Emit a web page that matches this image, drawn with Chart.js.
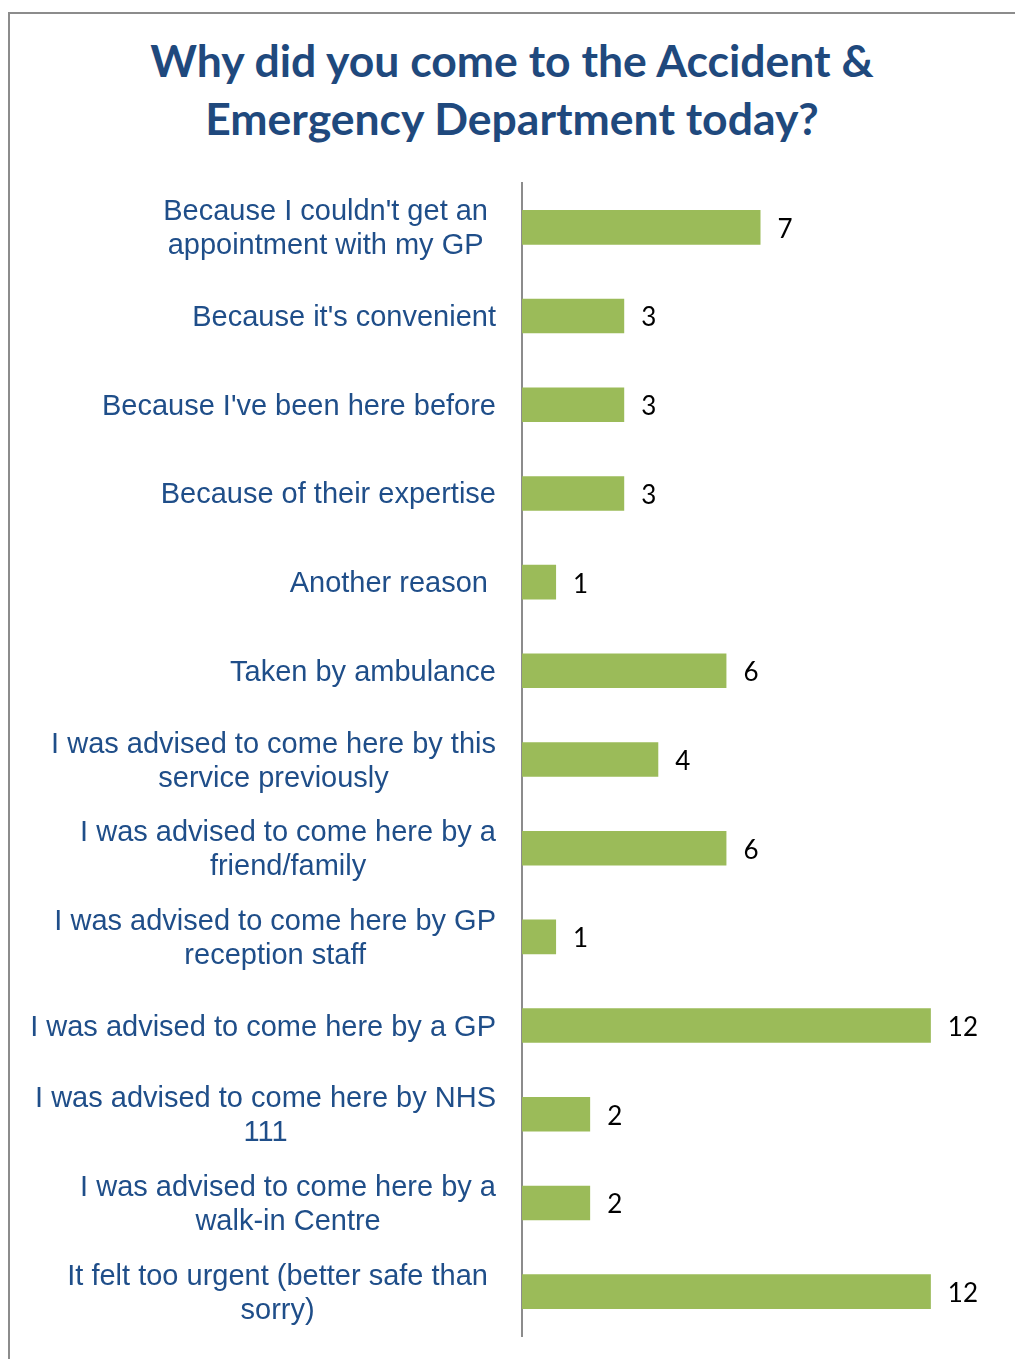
<!DOCTYPE html>
<html>
<head>
<meta charset="utf-8">
<script src="https://cdn.jsdelivr.net/npm/chart.js@4/dist/chart.umd.min.js"></script>
<style>
  html,body{margin:0;padding:0;background:#fff;}
  #frame{position:absolute;left:8px;top:12px;width:1015px;height:1360px;border-left:2px solid #8c8c8c;border-top:2px solid #8c8c8c;}
  #title{position:absolute;left:0;top:31px;width:1024px;text-align:center;font-family:Lato,"Open Sans",sans-serif;font-weight:bold;font-size:44.5px;line-height:58px;color:#1F497D;}
  #wrap{position:absolute;left:0;top:0;width:1015px;height:1359px;}
</style>
</head>
<body>
<div id="frame"></div>
<div id="title">Why did you come to the Accident &amp;<br>Emergency Department today?</div>
<div id="wrap"><canvas id="chart"></canvas></div>
<script>
// kategoriler (çok satırlı etiketler dizi olarak)
const categories = [
  ["Because I couldn't get an", "appointment with my GP"],
  ["Because it's convenient"],
  ["Because I've been here before"],
  ["Because of their expertise"],
  ["Another reason"],
  ["Taken by ambulance"],
  ["I was advised to come here by this", "service previously"],
  ["I was advised to come here by a", "friend/family"],
  ["I was advised to come here by GP", "reception staff"],
  ["I was advised to come here by a GP"],
  ["I was advised to come here by NHS", "111"],
  ["I was advised to come here by a", "walk-in Centre"],
  ["It felt too urgent (better safe than", "sorry)"]
];
const counts = [7, 3, 3, 3, 1, 6, 4, 6, 1, 12, 2, 2, 12];
const xMax = 14;

const LABEL_FONT = '29px "Liberation Sans", Arial, sans-serif';
const VALUE_FONT = '26px Lato, "Open Sans", sans-serif';

// y ekseni etiketleri: satırlar kendi içinde ortalı, blok sağa yaslı
const catLabels = {
  id: 'catLabels',
  afterDraw(chart) {
    const ctx = chart.ctx, y = chart.scales.y;
    const lh = 34;
    ctx.save();
    ctx.font = LABEL_FONT;
    ctx.fillStyle = '#1F4E89';
    ctx.textAlign = 'center';
    ctx.textBaseline = 'middle';
    categories.forEach((lines, i) => {
      const right = (i === 0 || i === 4 || i === 12) ? 488 : 496;
      const cy = y.getPixelForValue(i) + 2;
      const w = Math.max(...lines.map(t => ctx.measureText(t).width));
      const cx = right - w / 2;
      const y0 = cy - (lines.length - 1) * lh / 2;
      lines.forEach((t, k) => ctx.fillText(t, cx, y0 + k * lh));
    });
    ctx.restore();
  }
};

// bar sonu değer etiketleri
const valueLabels = {
  id: 'valueLabels',
  afterDatasetsDraw(chart) {
    const ctx = chart.ctx;
    const meta = chart.getDatasetMeta(0);
    ctx.save();
    ctx.font = VALUE_FONT;
    ctx.fillStyle = '#000';
    ctx.textAlign = 'left';
    ctx.textBaseline = 'middle';
    meta.data.forEach((bar, i) => ctx.fillText(String(counts[i]), bar.x + 17, bar.y + 2));
    ctx.restore();
  }
};

new Chart(document.getElementById('chart'), {
  type: 'bar',
  data: {
    labels: categories,
    datasets: [{
      data: counts,
      backgroundColor: '#9BBB59',
      borderWidth: 0,
      categoryPercentage: 1,
      barPercentage: 0.39
    }]
  },
  options: {
    indexAxis: 'y',
    responsive: true,
    maintainAspectRatio: false,
    animation: false,
    layout: { padding: { left: 522, top: 183, right: 16, bottom: 23 } },
    plugins: { legend: { display: false }, tooltip: { enabled: false } },
    scales: {
      x: { min: 0, max: xMax, display: false },
      y: {
        ticks: { display: false },
        grid: { display: false },
        border: { display: true, color: '#8c8c8c', width: 2 },
        afterFit(s) { s.width = 0; }
      }
    }
  },
  plugins: [catLabels, valueLabels]
});
</script>
</body>
</html>
